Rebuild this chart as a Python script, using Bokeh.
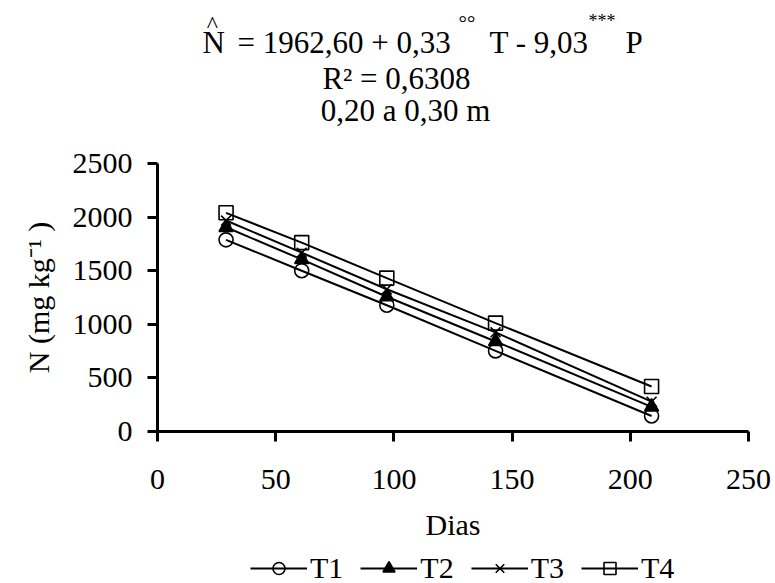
from bokeh.plotting import figure
from bokeh.layouts import column
from bokeh.models import Range1d, FixedTicker, Label, Legend, LegendItem
from bokeh.embed import file_html
from bokeh.resources import INLINE

# ---- data ----
days = [29, 61, 97, 143, 209]
T1 = [1788, 1500, 1178, 752, 145]
T2 = [1905, 1605, 1257, 840, 230]
T3 = [1968, 1668, 1327, 925, 278]
T4 = [2040, 1762, 1431, 1011, 420]
series_names = ["T1", "T2", "T3", "T4"]
x_ticks = [0, 50, 100, 150, 200, 250]
y_ticks = [0, 500, 1000, 1500, 2000, 2500]

FONT = "Liberation Serif"
W = 775
FL = 157   # frame left (page px); column aligns all frames to this


def bare(height, xr, yr):
    f = figure(width=W, height=height, output_backend="svg", toolbar_location=None,
               x_range=xr, y_range=yr, x_axis_type=None, y_axis_type=None,
               min_border=0)
    f.title.text = ""
    f.outline_line_color = None
    f.grid.grid_line_color = None
    f.background_fill_color = "white"
    f.border_fill_color = "white"
    return f


# ---------------- title block ----------------
TH = 145
ptitle = bare(TH, Range1d(0, 250), Range1d(0, TH))


def lab(text, x, y, size, align="left"):
    ptitle.add_layout(Label(x=x - FL, y=y, x_units="screen", y_units="screen", text=text,
                            text_font=FONT, text_font_size=f"{size}px",
                            text_align=align, text_baseline="alphabetic",
                            text_color="black"))


lab("N", 202, 103, 31)
lab("^", 212, 122, 24, "center")
lab("= 1962,60 + 0,33", 237, 103, 31)
lab("\u00b0\u00b0", 458, 123, 21)
lab("T - 9,03", 489, 103, 31)
lab("***", 588, 125, 18)
lab("P", 625, 103, 31)
lab("R\u00b2 = 0,6308", 396, 67, 31, "center")
lab("0,20 a 0,30 m", 405, 35, 31, "center")

# ---------------- main chart ----------------
MH = 400
TOP = 18
p = figure(width=W, height=MH, output_backend="svg", toolbar_location=None,
           x_range=Range1d(0, 250), y_range=Range1d(0, 2500),
           min_border_left=FL, min_border_right=27,
           min_border_top=TOP, min_border_bottom=MH - TOP - 268)
p.title.text = ""
p.outline_line_color = None
p.grid.grid_line_color = None
p.background_fill_color = "white"
p.border_fill_color = "white"

for ax in (p.xaxis[0], p.yaxis[0]):
    ax.axis_line_width = 3
    ax.axis_line_color = "black"
    ax.major_tick_line_width = 3
    ax.major_tick_line_color = "black"
    ax.major_tick_in = 0
    ax.major_tick_out = 10
    ax.minor_tick_line_color = None
    ax.major_label_text_font = FONT
    ax.major_label_text_font_size = "30px"
    ax.major_label_text_color = "black"
    ax.axis_label_text_font = FONT
    ax.axis_label_text_font_size = "30px"
    ax.axis_label_text_font_style = "normal"
    ax.axis_label_text_color = "black"

p.xaxis[0].ticker = FixedTicker(ticks=x_ticks)
p.yaxis[0].ticker = FixedTicker(ticks=y_ticks)
p.xaxis[0].axis_label = "Dias"
p.yaxis[0].axis_label = "N (mg kg\u207b\u00b9 )"
p.xaxis[0].major_label_standoff = 28
p.yaxis[0].major_label_standoff = 15
p.xaxis[0].axis_label_standoff = 16
p.yaxis[0].axis_label_standoff = 15

specs = [
    (T1, "circle", None),
    (T2, "triangle", "black"),
    (T3, "x", None),
    (T4, "square", None),
]


def draw(fig, xs):
    rs = []
    for name, (vals, marker, fill) in zip(series_names, specs):
        lr = fig.line(xs, vals, line_color="black", line_width=2)
        sr = fig.scatter(xs, vals, marker=marker, size=14, line_color="black",
                         line_width=1.6, fill_color=fill if fill else None)
        rs.append((name, lr, sr))
    return rs


draw(p, days)

# ---------------- legend strip ----------------
LH = 583 - TH - MH
pleg = bare(LH, Range1d(0, 250), Range1d(10000, 11000))  # series fall outside view
leg_rs = draw(pleg, days)
items = [LegendItem(label=n, renderers=[lr, sr]) for n, lr, sr in leg_rs]
legend = Legend(items=items, orientation="horizontal", location=(250 - FL, -2),
                border_line_color=None, background_fill_alpha=0,
                label_text_font=FONT, label_text_font_size="30px",
                label_text_color="black",
                glyph_width=57, glyph_height=30, label_standoff=3,
                spacing=17, padding=0, margin=0)
pleg.add_layout(legend, "center")

layout = column(ptitle, p, pleg, spacing=0)
open("out.html", "w").write(file_html(layout, INLINE))
